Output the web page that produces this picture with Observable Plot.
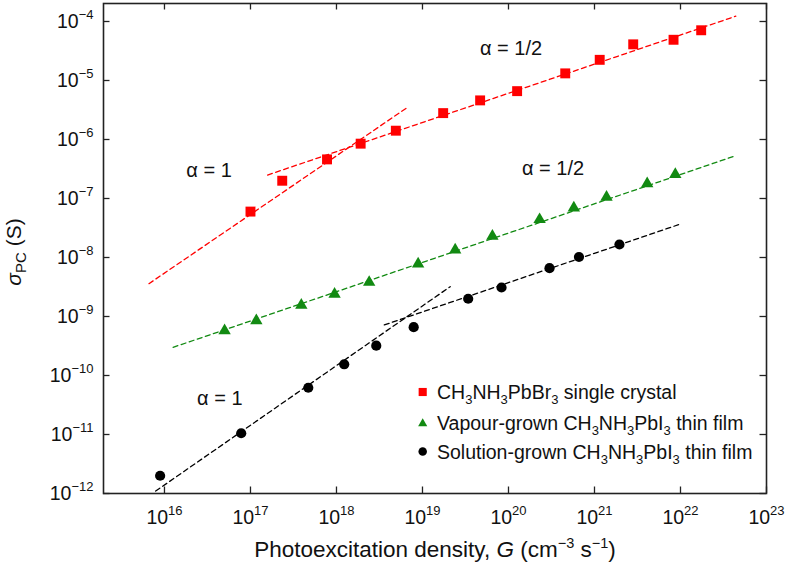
<!DOCTYPE html>
<html><head><meta charset="utf-8">
<script src="https://cdn.jsdelivr.net/npm/d3@7"></script>
<script src="https://cdn.jsdelivr.net/npm/@observablehq/plot@0.6"></script>
<style>
body{margin:0;background:#fff;}
#chart{position:relative;width:788px;height:569px;}
</style></head><body><div id="chart"></div>
<script>
// ---- tick values ----
const xTicks = [1e16, 1e17, 1e18, 1e19, 1e20, 1e21, 1e22, 1e23];
const yTicks = [1e-12, 1e-11, 1e-10, 1e-9, 1e-8, 1e-7, 1e-6, 1e-5, 1e-4];

// ---- CH3NH3PbBr3 single crystal (red squares) ----
const crystalG     = [1.0e17, 2.34e17, 7.76e17, 1.91e18, 4.9e18, 1.74e19, 4.68e19, 1.26e20, 4.57e20, 1.15e21, 2.82e21, 8.3e21, 1.74e22];
const crystalSigma = [6.0e-8, 2.0e-7, 4.6e-7, 8.5e-7, 1.41e-6, 2.8e-6, 4.6e-6, 6.6e-6, 1.32e-5, 2.24e-5, 4.1e-5, 4.9e-5, 7.1e-5];

// ---- Vapour-grown CH3NH3PbI3 thin film (green triangles) ----
const vapourG     = [5.0e16, 1.17e17, 3.9e17, 9.5e17, 2.4e18, 8.9e18, 2.4e19, 6.5e19, 2.3e20, 5.75e20, 1.38e21, 4.1e21, 8.7e21];
const vapourSigma = [5.75e-10, 8.5e-10, 1.55e-9, 2.4e-9, 3.8e-9, 7.8e-9, 1.35e-8, 2.3e-8, 4.4e-8, 6.9e-8, 1.05e-7, 1.78e-7, 2.57e-7];

// ---- Solution-grown CH3NH3PbI3 thin film (black circles) ----
const solutionG     = [8.9e15, 7.8e16, 4.7e17, 1.23e18, 2.9e18, 7.9e18, 3.4e19, 8.3e19, 3.0e20, 6.6e20, 1.95e21];
const solutionSigma = [2.0e-12, 1.05e-11, 6.2e-11, 1.55e-10, 3.2e-10, 6.6e-10, 2.0e-9, 3.1e-9, 6.6e-9, 1.02e-8, 1.66e-8];

// ---- dashed power-law fit lines (start / end) ----
const fitSeries = ["crystal", "crystal", "vapour", "solution", "solution"];
const fitG1 = [6.6e15, 1.58e17, 1.26e16, 7.9e15, 3.6e18];
const fitG2 = [6.5e18, 4.4e22, 4.2e22, 2.1e19, 9.5e21];
const fitS1 = [3.6e-9, 2.5e-7, 3.0e-10, 1.1e-12, 7.2e-10];
const fitS2 = [3.4e-6, 1.23e-4, 5.2e-7, 3.2e-9, 3.6e-8];

// ---- slope annotations ----
const alphaText  = ["α = 1", "α = 1/2", "α = 1/2", "α = 1"];
const alphaG     = [3.3e16, 1.07e20, 3.3e20, 4.4e16];
const alphaSigma = [2.95e-7, 3.5e-5, 3.2e-7, 4.1e-11];

// ---- legend ----
const legendLabels = ["CH_3NH_3PbBr_3 single crystal", "Vapour-grown CH_3NH_3PbI_3 thin film", "Solution-grown CH_3NH_3PbI_3 thin film"];

const RED = "#ff0000", GREEN = "#128a12", BLACK = "#000000";

const crystal = crystalG.map((g, i) => ({g, s: crystalSigma[i]}));
const vapour = vapourG.map((g, i) => ({g, s: vapourSigma[i]}));
const solution = solutionG.map((g, i) => ({g, s: solutionSigma[i]}));
const fits = fitSeries.flatMap((k, i) => [
  {id: i, k, g: fitG1[i], s: fitS1[i]},
  {id: i, k, g: fitG2[i], s: fitS2[i]}
]);
const alphas = alphaText.map((t, i) => ({t, g: alphaG[i], s: alphaSigma[i]}));

const W = 788, H = 569, mL = 103, mT = 3, mR = 22, mB = 76;
const fw = W - mL - mR, fh = H - mT - mB, TK = 6.5;
const FONT = "'Liberation Sans', Arial, Helvetica, sans-serif";

const sup = d => {
  const e = Math.round(Math.log10(d));
  return "10^" + (e < 0 ? "\u2212" + (-e) : e);
};

const dash = {strokeWidth: 1.3, strokeDasharray: "5,3.5"};
const chart = Plot.plot({
  width: W, height: H,
  marginLeft: mL, marginTop: mT, marginRight: mR, marginBottom: mB,
  style: {fontFamily: FONT, fontSize: "19.5px", color: "#111", background: "#fff", overflow: "visible"},
  x: {type: "log", domain: [Math.pow(10, 15.291), 1e23]},
  y: {type: "log", domain: [1e-12, Math.pow(10, -3.695)]},
  marks: [
    Plot.line(fits.filter(d => d.k === "crystal"), {x: "g", y: "s", z: "id", stroke: RED, ...dash}),
    Plot.line(fits.filter(d => d.k === "vapour"), {x: "g", y: "s", z: "id", stroke: GREEN, ...dash}),
    Plot.line(fits.filter(d => d.k === "solution"), {x: "g", y: "s", z: "id", stroke: BLACK, ...dash}),
    Plot.dot(crystal, {x: "g", y: "s", symbol: "square", r: 5.6, fill: RED, stroke: "none"}),
    Plot.dot(vapour, {x: "g", y: "s", symbol: "triangle", r: 4.6, fill: GREEN, stroke: "none"}),
    Plot.dot(solution, {x: "g", y: "s", symbol: "circle", r: 5.1, fill: BLACK, stroke: "none"}),
    Plot.text(alphas, {x: "g", y: "s", text: "t", fontSize: 20, fill: "#111"}),
    Plot.ruleX(xTicks, {insetTop: fh - TK, stroke: "#222", strokeWidth: 1.3}),
    Plot.ruleX(xTicks, {insetBottom: fh - TK, stroke: "#222", strokeWidth: 1.3}),
    Plot.ruleY(yTicks, {insetRight: fw - TK, stroke: "#222", strokeWidth: 1.3}),
    Plot.ruleY(yTicks, {insetLeft: fw - TK, stroke: "#222", strokeWidth: 1.3}),
    Plot.frame({stroke: "#222", strokeWidth: 1.6}),
    Plot.axisX({ticks: xTicks, tickSize: 0, tickPadding: 17, tickFormat: sup, label: null, fill: "#111"}),
    Plot.axisY({ticks: yTicks, tickSize: 0, tickPadding: 10, tickFormat: sup, label: null, fill: "#111"})
  ]
});
document.getElementById("chart").appendChild(chart);

const svg = d3.select(chart);
// superscripts on tick labels
svg.selectAll('g[aria-label="x-axis tick label"] text, g[aria-label="y-axis tick label"] text').each(function () {
  const parts = this.textContent.split("^");
  if (parts.length < 2) return;
  const s = d3.select(this);
  s.text(null);
  s.append("tspan").text(parts[0]);
  s.append("tspan").attr("dy", -9).attr("font-size", 13).text(parts[1]);
});

// axis titles
const xt = svg.append("text").attr("x", 435).attr("y", 557).attr("text-anchor", "middle")
  .attr("font-family", FONT).attr("font-size", 22.5).attr("fill", "#111");
xt.append("tspan").text("Photoexcitation density, ");
xt.append("tspan").attr("font-style", "italic").text("G");
xt.append("tspan").text(" (cm");
xt.append("tspan").attr("dy", -9).attr("font-size", 14.5).text("\u22123");
xt.append("tspan").attr("dy", 9).text(" s");
xt.append("tspan").attr("dy", -9).attr("font-size", 14.5).text("\u22121");
xt.append("tspan").attr("dy", 9).text(")");

const yt = svg.append("text").attr("transform", "translate(21,252) rotate(-90)").attr("text-anchor", "middle")
  .attr("font-family", FONT).attr("font-size", 21).attr("fill", "#111");
yt.append("tspan").attr("font-style", "italic").text("\u03c3");
yt.append("tspan").attr("dy", 5).attr("font-size", 15).text("PC");
yt.append("tspan").attr("dy", -5).text(" (S)");

// legend
const symTypes = [d3.symbolSquare, d3.symbolTriangle, d3.symbolCircle];
const symSizes = [66, 36, 57];
const symColors = [RED, GREEN, BLACK];
const rowY = [392, 422.5, 451.5];
const lg = svg.append("g").attr("font-family", FONT).attr("font-size", 19.5).attr("fill", "#111").attr("text-anchor", "start");
legendLabels.forEach((lab, i) => {
  lg.append("path").attr("d", d3.symbol().type(symTypes[i]).size(symSizes[i])())
    .attr("transform", `translate(422.7,${rowY[i] + (i === 1 ? 1 : 0)})`).attr("fill", symColors[i]);
  const t = lg.append("text").attr("x", 437).attr("y", rowY[i] + 7).attr("text-anchor", "start");
  const segs = lab.split(/_(\d)/);
  let down = false;
  segs.forEach((seg, j) => {
    if (!seg) return;
    if (j % 2 === 1) {
      t.append("tspan").attr("dy", 5).attr("font-size", 13).text(seg);
      down = true;
    } else {
      const ts = t.append("tspan").text(seg);
      if (down) { ts.attr("dy", -5); down = false; }
    }
  });
});
</script></body></html>
